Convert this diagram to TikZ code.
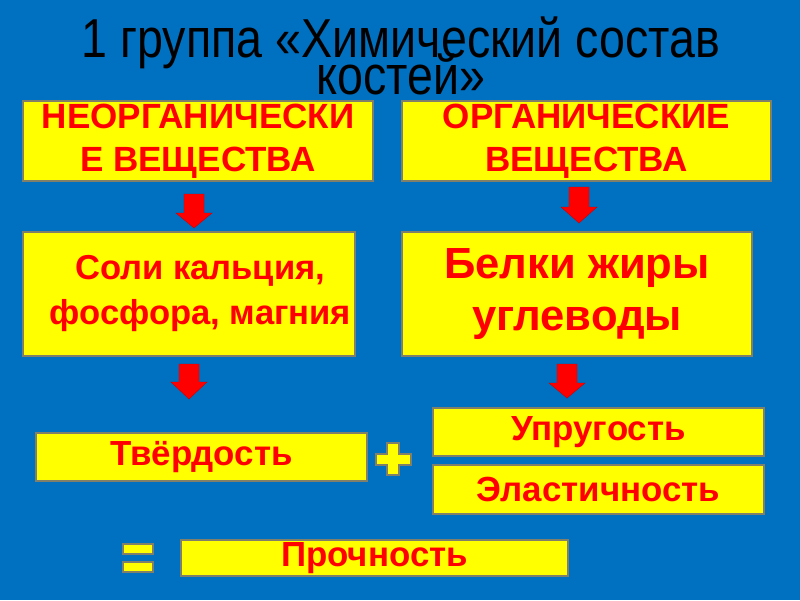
\documentclass[tikz,border=0pt]{standalone}
\usepackage{fontspec}
\setmainfont{Liberation Sans}
\newfontfamily\titlefont[FakeStretch=0.85]{Liberation Sans}
\usetikzlibrary{positioning}
\definecolor{slideblue}{HTML}{0070C0}
\definecolor{boxyellow}{HTML}{FFFF00}
\definecolor{boxred}{HTML}{FF0000}
\definecolor{boxline}{HTML}{7F7F6A}
\newcommand{\titlesize}{\titlefont\fontsize{39}{26.3}\selectfont\setlength{\lineskiplimit}{-100pt}}

\tikzset{
  ybox/.style={draw=boxline,fill=boxyellow,line width=0.8pt,text=boxred,align=center,inner sep=0pt},
  titletext/.style={anchor=base,align=center,inner sep=0pt,font=\titlesize},
  blockarrow/.style={fill=boxred,draw=boxred!80!black,line width=0.3pt},
  sign/.style={fill=boxyellow,draw=boxline,line width=0.8pt}
}
% block arrow pointing down: top point, depth of head start, depth of tip
\newcommand{\downblock}[3]{%
  \filldraw[blockarrow,shift={(#1)}] (-10,0) -- (10,0) -- (10,#2) -- (18,#2) -- (0,#3) -- (-18,#2) -- (-10,#2) -- cycle;}

\begin{document}
\begin{tikzpicture}[x=0.025cm,y=-0.025cm]
  \fill[slideblue] (0,0) rectangle (800,600);
  \useasboundingbox (0,0) rectangle (800,600);

  % base anchor sits on the last line
  \node[titletext] (title) at (401,94) {1 группа «Химический состав\\костей»};

  % top row
  \node[ybox,minimum width=8.75cm,minimum height=2cm,font=\bfseries\fontsize{24.9}{30.6}\selectfont] (inorg) at (198,141) {НЕОРГАНИЧЕСКИ\\Е ВЕЩЕСТВА};
  \node[ybox,minimum width=9.225cm,minimum height=2cm,font=\bfseries\fontsize{24.9}{30.6}\selectfont] (org) at (586.5,141) {ОРГАНИЧЕСКИЕ\\ВЕЩЕСТВА};

  % middle row
  \node[ybox,minimum width=8.3cm,minimum height=3.1cm,font=\bfseries\fontsize{24.6}{32}\selectfont] (salts) at (189,294) {\hspace*{16pt}Соли кальция,\\\hspace*{16pt}фосфора, магния};
  \node[ybox,minimum width=8.75cm,minimum height=3.1cm,font=\bfseries\fontsize{31}{37}\selectfont] (prot) at (577,294) {Белки жиры\\углеводы};

  % bottom rows
  \node[ybox,minimum width=8.275cm,minimum height=1.2cm,font=\bfseries\fontsize{24.8}{27}\selectfont] (hard) at (201.5,457) {Твёрдость};
  \node[ybox,minimum width=8.275cm,minimum height=1.2cm,font=\bfseries\fontsize{24.8}{27}\selectfont] (resil) at (598.5,432) {Упругость};
  \node[ybox,minimum width=8.275cm,minimum height=1.225cm,font=\bfseries\fontsize{24.8}{27}\selectfont] (elast) at (598.5,489.5) {Эластичность};
  \node[ybox,minimum width=9.675cm,minimum height=0.9cm,font=\bfseries\fontsize{24.8}{27}\selectfont] (strength) at (374.5,558) {Прочность};

  % arrows
  \coordinate (arrA) at (194,194);
  \coordinate (arrB) at (579,187);
  \coordinate (arrC) at (189,364);
  \coordinate (arrD) at (567,364);
  \downblock{arrA}{19}{34}
  \downblock{arrB}{20}{36}
  \downblock{arrC}{18}{35}
  \downblock{arrD}{19}{34}

  % plus and equals
  \filldraw[sign] (376,454) -- (387,454) -- (387,443) -- (399,443) -- (399,454) -- (411,454) -- (411,465) -- (399,465) -- (399,475) -- (387,475) -- (387,465) -- (376,465) -- cycle;
  \filldraw[sign] (123,544) rectangle (153,554);
  \filldraw[sign] (123,562) rectangle (153,572);
\end{tikzpicture}
\end{document}
